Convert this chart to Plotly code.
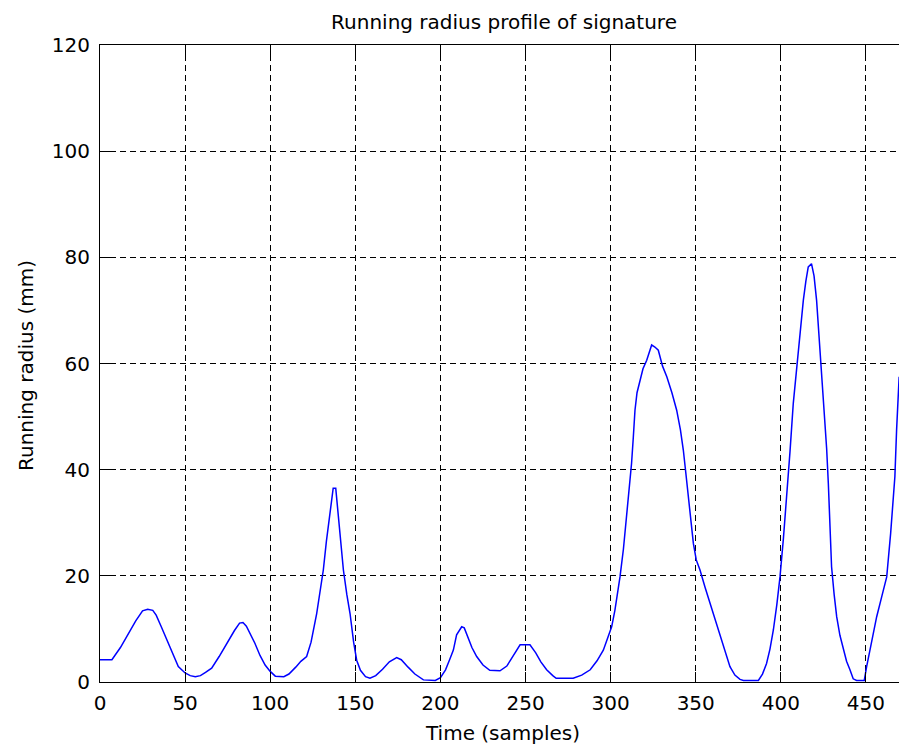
import plotly.graph_objects as go

# Samples (time) and running radius (mm)
time_samples = [0, 7, 12, 16.6, 21, 25, 28, 31, 33, 36, 41, 46, 50, 53, 56, 59, 62, 65.6, 70, 75.4,
                79, 82, 84, 86, 88, 91, 94, 97, 100, 103, 108, 111, 115, 118, 121.4, 124, 127.3, 129,
                131.2, 133, 135.1, 137, 138.5, 140, 143, 145, 146.9, 149, 150.8, 153, 156, 158.6,
                162, 166, 170, 174.3, 177, 181, 185, 190, 197, 200, 203, 205.5, 207.6, 209.5, 212.5,
                214, 216.5, 218.5, 221.3, 225, 229, 235, 239, 243, 246.8, 252.6, 256, 259, 262.4,
                266, 268, 278, 283, 288, 292, 295.7, 298, 300.6, 302.5, 304.5, 305.5, 307.5, 309.4,
                311, 312.3, 313.3, 314.3, 315.5, 317.3, 319, 321.2, 322.5, 324.1, 326, 328, 330.5,
                333, 336, 338.8, 341, 342.7, 344.3, 345.6, 347, 348.6, 350.3, 352.5, 355.5, 358.4,
                361.3, 364.3, 367.2, 370.1, 373, 376, 378, 386.8, 389.2, 391.6, 393.6, 395.6, 397.6,
                399.5, 401.5, 403.4, 405.4, 407.3, 408.8, 410.3, 411.8, 413.2, 414.7, 416.1, 418,
                419.5, 421, 422, 423, 424.5, 425.9, 426.9, 427.9, 428.9, 429.8, 431.3, 432.8, 434.7,
                436.7, 438.6, 440.6, 442.5, 444.5, 449, 450.4, 453.3, 456.3, 459.2, 462.2, 464.5,
                467, 468, 469, 469.5]
running_radius = [4.2, 4.2, 6.5, 9.2, 11.5, 13.4, 13.7, 13.5, 12.6, 10.4, 6.8, 2.9, 1.7, 1.2, 1.0, 1.2,
                  1.8, 2.6, 4.8, 7.9, 9.7, 11.1, 11.2, 10.5, 9.2, 7.3, 5.0, 3.2, 2.0, 1.1, 1.0, 1.5,
                  2.8, 3.9, 4.8, 7.5, 12.9, 16.5, 21.1, 26.5, 32.4, 36.5, 36.5, 31, 21.1, 16.5, 12.9,
                  7.5, 4.1, 2.2, 1.0, 0.7, 1.2, 2.4, 3.8, 4.6, 4.2, 2.8, 1.5, 0.4, 0.3, 0.8, 2.3, 4.3,
                  6.0, 8.9, 10.4, 10.2, 8.2, 6.5, 4.8, 3.2, 2.2, 2.1, 3.0, 5.0, 7.0, 7.0, 5.5, 3.8,
                  2.3, 1.2, 0.7, 0.7, 1.3, 2.3, 4.0, 6.0, 8.0, 10.4, 13.5, 17.3, 19.8, 25, 31.1, 36.5,
                  41.2, 46, 51.2, 54.5, 56.9, 59, 60.6, 62, 63.5, 63.1, 62.5, 59.5, 57.5, 54.5, 51.2,
                  47.5, 43.7, 39.0, 34.9, 30.5, 26.1, 23.0, 21.1, 17.8, 14.8, 11.6, 8.5, 5.6, 2.9,
                  1.3, 0.5, 0.3, 0.3, 1.5, 3.5, 6.2, 9.8, 14.5, 19.8, 27, 34.3, 43.5, 52.5, 57.5,
                  62.5, 67.5, 71.9, 75.5, 78.2, 78.8, 76.5, 71.9, 67, 62.5, 56, 50, 44, 37.4, 29.5,
                  21.7, 16.5, 12.3, 8.8, 6.0, 3.9, 2.3, 0.6, 0.3, 0.3, 2.9, 7.5, 12.3, 16.0, 19.8,
                  28.0, 38.7, 47.5, 56.2, 57.5]

x_ticks = [0, 50, 100, 150, 200, 250, 300, 350, 400, 450]
y_ticks = [0, 20, 40, 60, 80, 100, 120]

FONT = "DejaVu Sans"
# the axes box continues a little past the right edge of the window, as in the reference
W, H = 908, 750

fig = go.Figure()
fig.add_trace(go.Scatter(x=time_samples, y=running_radius, mode="lines",
                         line=dict(color="#0000ff", width=1.5), showlegend=False))

axis_common = dict(
    showline=True, linecolor="black", linewidth=1,
    ticks="inside", ticklen=10, tickcolor="black", tickwidth=1,
    showgrid=True, gridcolor="black", gridwidth=1, griddash="6px,4px",
    zeroline=False, tickfont=dict(family=FONT, size=20, color="black"),
)

fig.update_layout(
    width=W, height=H,
    margin=dict(l=100, r=0, t=45, b=68),
    paper_bgcolor="white", plot_bgcolor="white",
    title=dict(text="Running radius profile of signature", xref="container", yref="container",
               x=504 / W, xanchor="center", y=1 - 22 / H, yanchor="middle",
               font=dict(family=FONT, size=20, color="black")),
    xaxis=dict(range=[0, 474.7], tickvals=x_ticks, ticktext=[str(v) for v in x_ticks],
               mirror="ticks", ticklabelstandoff=3, **axis_common),
    yaxis=dict(range=[0, 120], tickvals=y_ticks, ticktext=[str(v) for v in y_ticks],
               mirror=False, ticklabelstandoff=5, **axis_common),
    annotations=[
        dict(text="Time (samples)", xref="paper", yref="paper", x=(502 - 100) / 808,
             y=(682 - 733) / 637, xanchor="center", yanchor="middle", showarrow=False,
             font=dict(family=FONT, size=20, color="black")),
        dict(text="Running radius (mm)", xref="paper", yref="paper", x=(26 - 100) / 808,
             y=0.5 - 2.5 / 637, xanchor="center", yanchor="middle", textangle=-90, showarrow=False,
             font=dict(family=FONT, size=20, color="black")),
    ],
)

fig.write_html(
    "out.html",
    config={"displayModeBar": False},
    post_script="document.body.style.margin='0';document.body.style.overflow='hidden';",
)
